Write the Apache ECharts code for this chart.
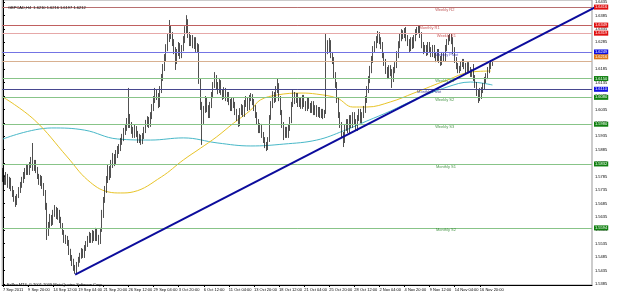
<!DOCTYPE html>
<html><head><meta charset="utf-8">
<script src="https://cdn.jsdelivr.net/npm/echarts@6/dist/echarts.min.js"></script>
<style>html,body{margin:0;padding:0;background:#fff}#c{width:625px;height:293px}</style>
</head><body><div id="c"></div>
<script>
// ---------- DATA ----------
const headerText = 'GBPCAD,H4  1.6210 1.6216 1.6197 1.6212';
const copyrightText = 'FxPro MT4, \u00a9 2001-2009 MetaQuotes Software Corp.';
const firstOpen = 1.5802;
const closes = [1.5780,1.5765,1.5787,1.5754,1.5772,1.5743,1.5724,1.5705,1.5687,1.5713,
1.5735,1.5754,1.5772,1.5787,1.5802,1.5817,1.5802,1.5828,1.5839,1.5817,
1.5836,1.5810,1.5787,1.5765,1.5780,1.5750,1.5728,1.5679,1.5579,1.5605,
1.5631,1.5616,1.5646,1.5661,1.5638,1.5653,1.5624,1.5601,1.5579,1.5549,
1.5557,1.5542,1.5505,1.5482,1.5467,1.5445,1.5437,1.5460,1.5474,1.5490,
1.5505,1.5493,1.5519,1.5534,1.5549,1.5564,1.5549,1.5572,1.5557,1.5579,
1.5557,1.5542,1.5586,1.5642,1.5698,1.5735,1.5772,1.5810,1.5791,1.5828,
1.5854,1.5839,1.5865,1.5884,1.5891,1.5914,1.5929,1.5951,1.5966,1.5977,
1.6003,1.5977,1.5958,1.5940,1.5966,1.5944,1.5921,1.5932,1.5914,1.5936,
1.5958,1.5981,1.5996,1.5981,1.6010,1.6040,1.6070,1.6100,1.6085,1.6051,
1.6107,1.6152,1.6189,1.6226,1.6263,1.6301,1.6338,1.6312,1.6286,1.6256,
1.6219,1.6249,1.6271,1.6237,1.6263,1.6293,1.6330,1.6360,1.6312,1.6286,
1.6301,1.6275,1.6293,1.6263,1.6271,1.6144,1.6051,1.5996,1.6033,1.6070,
1.6040,1.6014,1.6051,1.6089,1.6126,1.6152,1.6126,1.6107,1.6137,1.6100,
1.6085,1.6107,1.6077,1.6089,1.6063,1.6040,1.6070,1.6051,1.6025,1.6003,
1.5981,1.6025,1.6040,1.6018,1.6055,1.6070,1.6040,1.6077,1.6085,1.6063,
1.6040,1.6014,1.5988,1.5958,1.5973,1.5940,1.5921,1.5903,1.5891,1.5921,
1.6003,1.6051,1.6089,1.6070,1.6107,1.6126,1.6077,1.6025,1.5977,1.5940,
1.5958,1.5940,1.5966,1.5996,1.6051,1.6089,1.6070,1.6085,1.6055,1.6070,
1.6048,1.6077,1.6055,1.6040,1.6070,1.6048,1.6033,1.6055,1.6025,1.6040,
1.6018,1.6033,1.6014,1.6025,1.6010,1.6025,1.6275,1.6256,1.6286,1.6237,
1.6219,1.6163,1.6126,1.6070,1.6014,1.5977,1.5940,1.5921,1.5966,1.5988,
1.5958,1.6003,1.5977,1.6014,1.5988,1.5966,1.6003,1.6025,1.5996,1.6014,
1.6033,1.6070,1.6107,1.6144,1.6182,1.6219,1.6256,1.6275,1.6293,1.6312,
1.6293,1.6275,1.6237,1.6211,1.6182,1.6163,1.6189,1.6174,1.6152,1.6182,
1.6200,1.6237,1.6275,1.6301,1.6323,1.6312,1.6330,1.6301,1.6286,1.6263,
1.6293,1.6275,1.6301,1.6323,1.6330,1.6338,1.6312,1.6275,1.6256,1.6263,
1.6249,1.6275,1.6256,1.6241,1.6263,1.6237,1.6226,1.6249,1.6219,1.6211,
1.6237,1.6226,1.6263,1.6286,1.6301,1.6308,1.6293,1.6256,1.6219,1.6197,
1.6182,1.6189,1.6204,1.6211,1.6197,1.6182,1.6200,1.6182,1.6167,1.6174,
1.6152,1.6126,1.6100,1.6077,1.6089,1.6107,1.6122,1.6144,1.6159,1.6182,
1.6197,1.6210,1.6212];
const highs = [1.5817,1.5791,1.5802,1.5795,1.5784,1.5780,1.5750,1.5735,1.5713,1.5720,
1.5746,1.5765,1.5784,1.5802,1.5817,1.5832,1.5828,1.5839,1.5858,1.5910,
1.5847,1.5847,1.5821,1.5795,1.5791,1.5787,1.5761,1.5735,1.5687,1.5616,
1.5646,1.5642,1.5661,1.5679,1.5672,1.5668,1.5661,1.5635,1.5612,1.5586,
1.5568,1.5564,1.5549,1.5516,1.5493,1.5479,1.5456,1.5467,1.5486,1.5501,
1.5519,1.5516,1.5530,1.5545,1.5564,1.5579,1.5575,1.5586,1.5583,1.5594,
1.5590,1.5568,1.5594,1.5661,1.5709,1.5750,1.5787,1.5828,1.5824,1.5847,
1.5873,1.5869,1.5884,1.5899,1.5906,1.5929,1.5944,1.5966,1.5981,1.6003,
1.6115,1.6018,1.5988,1.5970,1.5977,1.5973,1.5955,1.5944,1.5940,1.5947,
1.5970,1.5996,1.6010,1.6007,1.6025,1.6055,1.6085,1.6115,1.6111,1.6096,
1.6122,1.6167,1.6204,1.6241,1.6278,1.6316,1.6368,1.6349,1.6323,1.6297,
1.6267,1.6260,1.6286,1.6282,1.6275,1.6308,1.6345,1.6386,1.6371,1.6323,
1.6312,1.6312,1.6304,1.6304,1.6282,1.6278,1.6152,1.6063,1.6048,1.6085,
1.6081,1.6051,1.6063,1.6100,1.6137,1.6174,1.6163,1.6137,1.6148,1.6144,
1.6111,1.6118,1.6115,1.6100,1.6100,1.6074,1.6081,1.6081,1.6063,1.6037,
1.6014,1.6040,1.6055,1.6051,1.6070,1.6085,1.6081,1.6089,1.6096,1.6092,
1.6074,1.6051,1.6025,1.5999,1.5984,1.5981,1.5951,1.5932,1.5914,1.5932,
1.6014,1.6066,1.6103,1.6100,1.6122,1.6152,1.6133,1.6085,1.6033,1.5988,
1.5970,1.5970,1.5977,1.6007,1.6063,1.6107,1.6100,1.6096,1.6096,1.6081,
1.6081,1.6089,1.6089,1.6066,1.6081,1.6081,1.6059,1.6066,1.6066,1.6051,
1.6051,1.6044,1.6044,1.6037,1.6037,1.6033,1.6319,1.6293,1.6301,1.6293,
1.6249,1.6230,1.6174,1.6137,1.6081,1.6025,1.5988,1.5951,1.5977,1.5999,
1.5999,1.6014,1.6014,1.6025,1.6025,1.5999,1.6014,1.6037,1.6037,1.6025,
1.6048,1.6085,1.6122,1.6159,1.6197,1.6234,1.6271,1.6289,1.6308,1.6327,
1.6323,1.6304,1.6286,1.6249,1.6223,1.6193,1.6200,1.6200,1.6185,1.6193,
1.6211,1.6252,1.6289,1.6316,1.6334,1.6330,1.6338,1.6342,1.6312,1.6297,
1.6304,1.6304,1.6312,1.6334,1.6342,1.6349,1.6349,1.6323,1.6286,1.6275,
1.6275,1.6286,1.6286,1.6267,1.6275,1.6275,1.6249,1.6260,1.6260,1.6234,
1.6249,1.6249,1.6275,1.6297,1.6312,1.6319,1.6319,1.6304,1.6267,1.6230,
1.6208,1.6197,1.6215,1.6223,1.6223,1.6208,1.6211,1.6211,1.6193,1.6185,
1.6204,1.6163,1.6137,1.6111,1.6115,1.6118,1.6133,1.6156,1.6170,1.6193,
1.6208,1.6219,1.6216];
const lows = [1.5765,1.5754,1.5754,1.5743,1.5739,1.5731,1.5709,1.5691,1.5672,1.5679,
1.5705,1.5724,1.5743,1.5761,1.5776,1.5791,1.5791,1.5791,1.5817,1.5806,
1.5806,1.5798,1.5776,1.5754,1.5750,1.5739,1.5713,1.5661,1.5549,1.5564,
1.5594,1.5601,1.5605,1.5635,1.5627,1.5624,1.5612,1.5590,1.5568,1.5538,
1.5534,1.5527,1.5493,1.5471,1.5452,1.5434,1.5423,1.5426,1.5449,1.5464,
1.5479,1.5482,1.5482,1.5508,1.5523,1.5538,1.5538,1.5538,1.5545,1.5545,
1.5545,1.5531,1.5534,1.5579,1.5631,1.5687,1.5724,1.5761,1.5772,1.5780,
1.5817,1.5824,1.5828,1.5854,1.5869,1.5880,1.5903,1.5917,1.5940,1.5955,
1.5966,1.5966,1.5944,1.5929,1.5929,1.5932,1.5910,1.5910,1.5903,1.5906,
1.5925,1.5947,1.5970,1.5966,1.5970,1.5999,1.6029,1.6059,1.6070,1.6040,
1.6044,1.6096,1.6141,1.6178,1.6215,1.6252,1.6286,1.6297,1.6271,1.6241,
1.6182,1.6204,1.6234,1.6223,1.6226,1.6252,1.6282,1.6319,1.6301,1.6271,
1.6271,1.6263,1.6260,1.6249,1.6249,1.6130,1.6033,1.5903,1.5981,1.6022,
1.6025,1.6003,1.6003,1.6040,1.6077,1.6115,1.6111,1.6092,1.6096,1.6089,
1.6070,1.6074,1.6066,1.6063,1.6051,1.6029,1.6029,1.6040,1.6014,1.5992,
1.5970,1.5973,1.6014,1.6007,1.6007,1.6044,1.6029,1.6033,1.6066,1.6051,
1.6029,1.6003,1.5977,1.5947,1.5947,1.5929,1.5910,1.5891,1.5880,1.5884,
1.5914,1.5996,1.6040,1.6059,1.6063,1.6096,1.6066,1.6014,1.5966,1.5921,
1.5929,1.5929,1.5929,1.5955,1.5984,1.6044,1.6055,1.6059,1.6044,1.6044,
1.6037,1.6037,1.6044,1.6029,1.6029,1.6037,1.6022,1.6022,1.6014,1.6014,
1.6007,1.6007,1.6003,1.6003,1.5999,1.6003,1.6018,1.6241,1.6245,1.6226,
1.6204,1.6152,1.6115,1.6059,1.6003,1.5966,1.5929,1.5895,1.5910,1.5955,
1.5947,1.5947,1.5966,1.5966,1.5977,1.5955,1.5955,1.5992,1.5984,1.5984,
1.6003,1.6022,1.6059,1.6096,1.6133,1.6170,1.6208,1.6245,1.6263,1.6282,
1.6278,1.6260,1.6226,1.6197,1.6167,1.6148,1.6152,1.6159,1.6115,1.6137,
1.6170,1.6189,1.6226,1.6263,1.6289,1.6297,1.6301,1.6289,1.6271,1.6249,
1.6252,1.6260,1.6263,1.6289,1.6312,1.6319,1.6301,1.6263,1.6241,1.6245,
1.6234,1.6237,1.6245,1.6230,1.6230,1.6226,1.6211,1.6215,1.6208,1.6197,
1.6200,1.6215,1.6215,1.6252,1.6275,1.6289,1.6278,1.6241,1.6208,1.6185,
1.6170,1.6170,1.6178,1.6193,1.6185,1.6170,1.6170,1.6170,1.6156,1.6156,
1.6141,1.6115,1.6085,1.6059,1.6066,1.6074,1.6096,1.6111,1.6133,1.6148,
1.6170,1.6185,1.6197];
// moving averages, read at sample bars: [bar index, price]
const maYellow = [[0,1.6081],[20,1.5996],[41,1.5858],[54,1.5772],[67,1.5728],[75,1.5724],[83,1.5728],
[101,1.5784],[115,1.5847],[126,1.5891],[136,1.5932],[147,1.5984],[158,1.6033],[164,1.6070],[175,1.6089],
[190,1.6096],[200,1.6092],[213,1.6077],[223,1.6044],[232,1.6044],[247,1.6063],[262,1.6096],[283,1.6144],
[298,1.6174],[311,1.6178]];
const maCyan = [[0,1.5925],[31,1.5966],[52,1.5958],[73,1.5925],[94,1.5921],[115,1.5929],[137,1.5910],
[158,1.5899],[179,1.5906],[200,1.5921],[217,1.5955],[232,1.5992],[247,1.6029],[262,1.6070],[283,1.6118],
[298,1.6137],[312,1.6126]];
const trendLine = [[46,1.5420],[384,1.6435]];
const levelNames  = ['Weekly R2','Monthly R1','Weekly R1','Weekly Pivot','','Weekly S1','Monthly Pivot','Weekly S2','Weekly S3','Monthly S1','Monthly S2'];
const levelValues = [1.6416,1.6349,1.6319,1.6249,1.6216,1.6150,1.6110,1.6080,1.5980,1.5832,1.5594];
const lastPrice = 1.6212;
const priceTicks = [1.5385,1.5435,1.5485,1.5535,1.5585,1.5635,1.5685,1.5735,1.5785,1.5835,1.5885,
1.5935,1.5985,1.6035,1.6085,1.6135,1.6185,1.6235,1.6285,1.6335,1.6385,1.6435];
const totalSlots = 376;
const lastLabelledBar = 304;

// ---------- STYLE ----------
const levelLineColors = ['#b87070','#c06060','#e6a8a8','#7474e4','#d8b090','#88c488','#484890','#88c488','#88c488','#88c488','#88c488'];
const levelBoxColors  = ['#e01010','#e01010','#e01010','#1010e0','#e07818','#108010','#1010e0','#108010','#108010','#108010','#108010'];
const levelBoxShift   = [0,0,0,0,-4,0,0,0,0,0,0];
const levelTextColors = ['#b03030','#c03030','#c03030','#3030c0','#000','#208020','#202080','#208020','#208020','#208020','#208020'];
const levelTextAt     = [275.5,265.5,276.5,275.5,275.5,275.5,264,275.5,275.5,276,276];
const FONT = 'Liberation Sans';

// categories: H4 bars, weekends skipped
const MON = ['Jan','Feb','Mar','Apr','May','Jun','Jul','Aug','Sep','Oct','Nov','Dec'];
const categories = [];
let t = Date.UTC(2011, 8, 7, 4);
while (categories.length < totalSlots) {
  const d = new Date(t); const wd = d.getUTCDay();
  if (wd !== 0 && wd !== 6) {
    const hh = String(d.getUTCHours()).padStart(2, '0');
    categories.push(categories.length === 0 ? d.getUTCDate() + ' ' + MON[d.getUTCMonth()] + ' ' + d.getUTCFullYear()
      : d.getUTCDate() + ' ' + MON[d.getUTCMonth()] + ' ' + hh + ':00');
  }
  t += 4 * 3600e3;
}
const ohlc = closes.map((c, i) => [i === 0 ? firstOpen : closes[i - 1], c, lows[i], highs[i]]);

const chart = echarts.init(document.getElementById('c'), null, {renderer: 'canvas'});
const boxLabel = (txt, bg, dy) => ({show: true, position: 'end', distance: 2, formatter: txt, color: '#fff',
  backgroundColor: bg, padding: [0, 1, 0, 1], fontSize: 4, fontFamily: FONT, lineHeight: 5, offset: [0, dy || 0]});
const markLevels = levelValues.map((v, k) => ({
  yAxis: v,
  lineStyle: {color: levelLineColors[k], width: 1, type: 'solid'},
  label: boxLabel(v.toFixed(4), levelBoxColors[k], levelBoxShift[k])
}));
markLevels.push({yAxis: lastPrice, lineStyle: {opacity: 0}, label: boxLabel(lastPrice.toFixed(4), '#000', 1)});
const showLabel = (i) => i % 16 === 0 && i <= lastLabelledBar;

chart.setOption({
  animation: false,
  backgroundColor: '#fff',
  title: [
    {text: headerText, left: 3, top: 1, textStyle: {fontSize: 4, fontWeight: 'normal', color: '#000', fontFamily: FONT}},
    {text: copyrightText, left: 2, top: 278, textStyle: {fontSize: 4, fontWeight: 'normal', color: '#000', fontFamily: FONT}}
  ],
  grid: {left: 1, right: 33, top: 0, bottom: 8, show: true, borderColor: '#999', borderWidth: 1},
  xAxis: [
    {type: 'category', data: categories, boundaryGap: true,
      axisLine: {lineStyle: {color: '#000', width: 1}},
      axisTick: {show: true, alignWithLabel: true, length: 2, interval: showLabel, lineStyle: {color: '#000'}},
      axisLabel: {interval: showLabel, fontSize: 4, color: '#000', fontFamily: FONT, align: 'left', margin: 2.5},
      splitLine: {show: false}},
    {type: 'value', min: -0.5, max: totalSlots - 0.5, show: false}
  ],
  yAxis: {
    type: 'value', position: 'right', min: 1.53813, max: 1.64424, scale: true,
    axisLine: {show: true, lineStyle: {color: '#000'}},
    axisTick: {show: true, length: 2, customValues: priceTicks, lineStyle: {color: '#000'}},
    axisLabel: {customValues: priceTicks, fontSize: 4, color: '#000', fontFamily: FONT, margin: 3,
      formatter: (v) => v.toFixed(4)},
    splitLine: {show: false}
  },
  series: [
    {type: 'line', xAxisIndex: 1, data: maCyan, smooth: 0.4, symbol: 'none',
      lineStyle: {color: '#48b8c8', width: 1}, z: 2, silent: true,
      markLine: {symbol: 'none', silent: true, animation: false, precision: 4, data: markLevels}},
    {type: 'line', xAxisIndex: 1, data: maYellow, smooth: 0.4, symbol: 'none',
      lineStyle: {color: '#e8c428', width: 1}, z: 2, silent: true},
    {type: 'candlestick', xAxisIndex: 0, data: ohlc, barWidth: 1,
      itemStyle: {color: '#ffffff', color0: '#222222', borderColor: '#262626', borderColor0: '#222', borderWidth: 0.8},
      z: 3},
    {type: 'line', xAxisIndex: 1, data: trendLine, symbol: 'none', clip: false,
      lineStyle: {color: '#0c0c9c', width: 2}, z: 5, silent: true},
    {type: 'scatter', xAxisIndex: 1, symbolSize: 0, silent: true, z: 6,
      data: levelNames.map((n, k) => ({value: [levelTextAt[k], levelValues[k]],
        label: {show: n !== '', formatter: n, color: levelTextColors[k], position: 'right', distance: 0,
          offset: [0, 2.5], fontSize: 4, fontFamily: FONT}}))}
  ]
});
</script></body></html>
